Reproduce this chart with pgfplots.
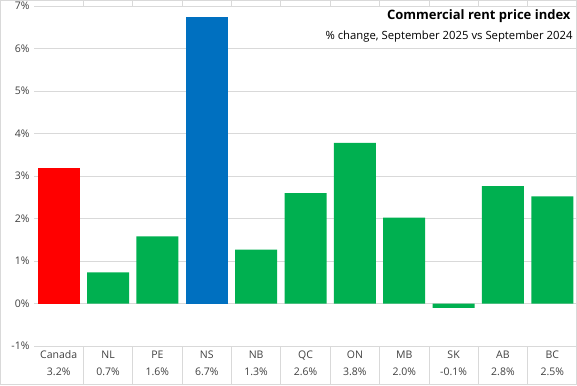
\documentclass[border=0pt]{standalone}
\usepackage{pgfplots}
\pgfplotsset{compat=1.18}
\usepackage{fontspec}
\setmainfont{Open Sans}
\definecolor{cred}{HTML}{FF0000}
\definecolor{cblue}{HTML}{0070C0}
\definecolor{cgreen}{HTML}{00B050}
\definecolor{gridc}{HTML}{D9D9D9}
\begin{document}
\begin{tikzpicture}[x=1pt,y=1pt]
\useasboundingbox (0,0) rectangle (577,385);
\draw[gridc, line width=1pt] (0.5,0.5) rectangle (576.5,384.5);
\begin{axis}[
  at={(34pt,39pt)}, anchor=south west,
  scale only axis, width=543pt, height=340pt,
  xmin=-0.5, xmax=10.5, ymin=-1, ymax=7,
  axis line style={draw=none},
  ytick={-1,0,...,7},
  ymajorgrids, grid style={gridc, line width=0.8pt},
  major tick length=0pt,
  yticklabel={\pgfmathprintnumber{\tick}\%},
  /pgf/number format/assume math mode=true,
  yticklabel style={font=\fontsize{10.5}{13}\selectfont, text=black!75, xshift=-1pt},
  xtick={0,...,10},
  xticklabels={{Canada\\3.2\%},{NL\\0.7\%},{PE\\1.6\%},{NS\\6.7\%},{NB\\1.3\%},{QC\\2.6\%},{ON\\3.8\%},{MB\\2.0\%},{SK\\-0.1\%},{AB\\2.8\%},{BC\\2.5\%}},
  xticklabel style={font=\fontsize{10.5}{17}\selectfont, text=black!75, align=center, yshift=-1pt},
  extra x ticks={0.5,1.5,...,9.5},
  extra x tick labels={},
  extra x tick style={grid=none, major tick length=39pt, tick align=outside, tick style={gridc, line width=0.8pt}},
  ybar, bar width=42pt,
  clip=false,
]
\addplot[fill=cred, draw=none, bar shift=0pt] coordinates {(0,3.2)};
\addplot[fill=cblue, draw=none, bar shift=0pt] coordinates {(3,6.75)};
\addplot[fill=cgreen, draw=none, bar shift=0pt] coordinates {(1,0.73) (2,1.58) (4,1.27) (5,2.6) (6,3.78) (7,2.02) (8,-0.1) (9,2.76) (10,2.52)};
\end{axis}
\node[anchor=east, font=\fontsize{13}{16}\selectfont\bfseries] at (574,369) {Commercial rent price index};
\node[anchor=east, font=\fontsize{11.3}{13}\selectfont] at (576,348) {\% change, September 2025 vs September 2024};
\end{tikzpicture}
\end{document}
